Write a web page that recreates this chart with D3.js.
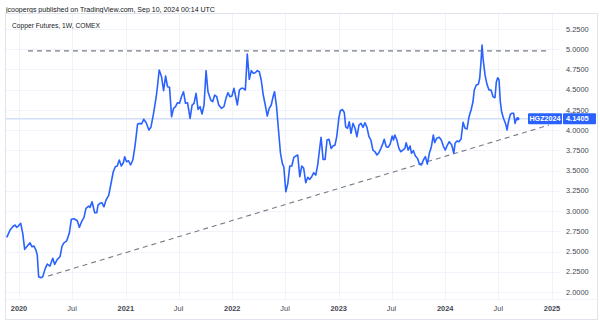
<!DOCTYPE html>
<html><head><meta charset="utf-8">
<script src="https://cdn.jsdelivr.net/npm/d3@7"></script>
<style>html,body{margin:0;padding:0;background:#fff;overflow:hidden}svg{display:block;font-family:"Liberation Sans",Arial,sans-serif}</style>
</head><body><svg id="c" width="600" height="324"></svg>
<script>
// ---- data (decimal years, weekly closes) ----
const closeTimes = [
2019.885,2019.916,2019.947,2019.963,2019.978,2019.993,2020.016,2020.035,2020.053,2020.078,2020.103,2020.122,2020.140,2020.159,2020.171,2020.184,2020.203,2020.222,2020.246,2020.265,
2020.290,2020.316,2020.334,2020.359,2020.384,2020.403,2020.421,2020.447,2020.471,2020.490,2020.515,2020.546,2020.565,2020.590,2020.609,2020.627,2020.653,2020.665,2020.684,2020.709,
2020.728,2020.740,2020.758,2020.777,2020.796,2020.815,2020.840,2020.859,2020.883,2020.902,2020.920,2020.939,2020.958,2020.977,2020.990,2021.007,2021.026,2021.045,2021.066,2021.086,
2021.111,2021.136,2021.149,2021.168,2021.192,2021.217,2021.236,2021.261,2021.286,2021.299,2021.314,2021.336,2021.355,2021.374,2021.392,2021.411,2021.430,2021.449,2021.467,2021.486,
2021.505,2021.523,2021.542,2021.561,2021.580,2021.604,2021.623,2021.641,2021.660,2021.679,2021.698,2021.716,2021.735,2021.754,2021.772,2021.798,2021.816,2021.835,2021.854,2021.873,
2021.898,2021.922,2021.941,2021.960,2021.978,2021.997,2022.016,2022.048,2022.067,2022.085,2022.104,2022.123,2022.141,2022.160,2022.179,2022.198,2022.216,2022.235,2022.254,2022.272,
2022.291,2022.310,2022.329,2022.347,2022.366,2022.385,2022.397,2022.416,2022.434,2022.453,2022.472,2022.484,2022.503,2022.522,2022.540,2022.559,2022.578,2022.596,2022.615,2022.634,
2022.653,2022.671,2022.690,2022.709,2022.728,2022.746,2022.765,2022.784,2022.802,2022.821,2022.834,2022.853,2022.872,2022.890,2022.909,2022.928,2022.947,2022.965,2022.982,2023.001,
2023.015,2023.034,2023.052,2023.065,2023.083,2023.099,2023.115,2023.134,2023.153,2023.171,2023.190,2023.209,2023.228,2023.246,2023.265,2023.284,2023.302,2023.321,2023.340,2023.359,
2023.377,2023.396,2023.415,2023.427,2023.446,2023.464,2023.483,2023.502,2023.514,2023.527,2023.546,2023.565,2023.583,2023.602,2023.621,2023.633,2023.652,2023.670,2023.683,2023.701,
2023.720,2023.739,2023.758,2023.776,2023.795,2023.814,2023.832,2023.851,2023.870,2023.888,2023.901,2023.920,2023.944,2023.963,2023.982,2024.001,2024.020,2024.038,2024.061,2024.080,
2024.092,2024.110,2024.129,2024.148,2024.167,2024.185,2024.204,2024.223,2024.242,2024.260,2024.272,2024.291,2024.310,2024.323,2024.335,2024.345,2024.354,2024.373,2024.391,2024.410,
2024.429,2024.448,2024.466,2024.479,2024.492,2024.504,2024.516,2024.529,2024.548,2024.567,2024.579,2024.591,2024.610,2024.628,2024.641,2024.654,2024.666,2024.679];
const closeValues = [
2.675,2.765,2.815,2.827,2.799,2.815,2.848,2.725,2.527,2.568,2.608,2.559,2.568,2.518,2.456,2.188,2.176,2.188,2.292,2.345,
2.320,2.416,2.341,2.403,2.435,2.568,2.608,2.633,2.725,2.898,2.905,2.880,2.799,2.880,2.922,3.034,3.062,3.046,3.115,2.979,
2.979,3.074,3.096,3.103,3.053,3.136,3.194,3.322,3.486,3.548,3.557,3.631,3.557,3.597,3.672,3.610,3.622,3.569,3.631,3.795,
4.076,4.084,4.076,4.134,4.092,4.002,4.035,4.208,4.413,4.558,4.743,4.660,4.487,4.669,4.537,4.529,4.166,4.270,4.290,4.339,
4.332,4.413,4.475,4.332,4.339,4.146,4.311,4.332,4.455,4.257,4.290,4.199,4.311,4.735,4.475,4.372,4.351,4.434,4.413,4.311,
4.270,4.290,4.393,4.463,4.413,4.422,4.517,4.311,4.496,4.517,4.517,4.496,4.941,4.628,4.735,4.702,4.710,4.735,4.722,4.620,
4.434,4.311,4.175,4.270,4.311,4.422,4.475,4.290,4.002,3.714,3.581,3.548,3.239,3.343,3.557,3.557,3.664,3.680,3.693,3.424,
3.557,3.528,3.350,3.417,3.392,3.424,3.474,3.445,3.569,3.775,3.911,3.639,3.639,3.878,3.887,3.775,3.804,3.816,3.927,4.150,
4.240,4.255,4.218,4.042,4.023,4.104,3.961,4.084,4.023,3.919,4.063,4.084,4.035,4.092,4.035,3.919,3.878,3.754,3.733,3.693,
3.721,3.775,3.837,3.887,3.795,3.788,3.829,3.927,3.878,3.940,3.878,3.775,3.733,3.754,3.775,3.845,3.754,3.804,3.714,3.746,
3.680,3.652,3.581,3.569,3.631,3.672,3.581,3.714,3.795,3.940,3.845,3.899,3.911,3.878,3.804,3.754,3.816,3.857,3.816,3.714,
3.837,3.866,3.857,3.890,4.097,4.023,4.014,4.166,4.249,4.351,4.496,4.558,4.566,4.641,4.846,5.052,4.888,4.681,4.566,4.496,
4.496,4.413,4.401,4.599,4.648,4.620,4.351,4.220,4.138,4.072,4.002,4.097,4.196,4.208,4.208,4.084,4.138,4.1405];
const priceTicks = [2.0,2.25,2.5,2.75,3.0,3.25,3.5,3.75,4.0,4.25,4.5,4.75,5.0,5.25];
const timeTicks = ["2020-01-01","2020-07-01","2021-01-01","2021-07-01","2022-01-01","2022-07-01","2023-01-01","2023-07-01","2024-01-01","2024-07-01","2025-01-01"];
const timeTickLabels = ["2020","Jul","2021","Jul","2022","Jul","2023","Jul","2024","Jul","2025"];
const resistanceTimes = [2020.084, 2024.953];
const resistanceValues = [4.98, 4.98];
const trendTimes = [2020.272, 2024.972];
const trendValues = [2.197, 4.063];
const lastPrice = 4.1405;
const symbolName = "HGZ2024";
const headerText = "jcoopergs published on TradingView.com, Sep 10, 2024 00:14 UTC";
const titleText = "Copper Futures, 1W, COMEX";

// ---- helpers ----
function toDate(t){const y=Math.floor(t);const s=Date.UTC(y,0,1),e=Date.UTC(y+1,0,1);return new Date(s+(t-y)*(e-s));}
const parseD = d3.utcParse("%Y-%m-%d");

const svg = d3.select("#c");
const plot = {l:5, r:560, t:13, b:299};
const x = d3.scaleUtc().domain([parseD("2020-01-01"), parseD("2025-01-01")]).range([19, 552]);
const y = d3.scaleLinear().domain([2.0, 5.25]).range([292, 29]);

svg.append("rect").attr("width",600).attr("height",324).attr("fill","#fff");

// header
function fitText(sel, target){const w=sel.node().getComputedTextLength();const fs=parseFloat(sel.attr("font-size"));sel.attr("font-size",(fs*target/w).toFixed(2));}
const h = svg.append("text").attr("x",6).attr("y",12).attr("font-size",9).attr("fill","#131722").text(headerText);
fitText(h, 209);

// frame
svg.append("rect").attr("x",5.5).attr("y",13.5).attr("width",592).attr("height",306).attr("fill","none").attr("stroke","#e0e3eb");

// grid
const grid = svg.append("g");
grid.selectAll("line.h").data(priceTicks).join("line")
  .attr("x1",plot.l+1).attr("x2",plot.r).attr("y1",d=>Math.round(y(d))+0.5).attr("y2",d=>Math.round(y(d))+0.5)
  .attr("stroke","#f0f3fa").attr("stroke-width",1);
grid.selectAll("line.v").data(timeTicks).join("line")
  .attr("x1",d=>Math.round(x(parseD(d)))+0.5).attr("x2",d=>Math.round(x(parseD(d)))+0.5).attr("y1",plot.t+1).attr("y2",plot.b)
  .attr("stroke","#f0f3fa").attr("stroke-width",1);
// axis separators
svg.append("line").attr("x1",plot.l+1).attr("x2",597).attr("y1",plot.b+0.5).attr("y2",plot.b+0.5).attr("stroke","#f0f3fa");

// title
const tt = svg.append("text").attr("x",12).attr("y",28).attr("font-size",8.5).attr("fill","#131722").text(titleText);
fitText(tt, 88);

const clip = svg.append("defs").append("clipPath").attr("id","pc").append("rect")
  .attr("x",plot.l+1).attr("y",plot.t+1).attr("width",plot.r-plot.l).attr("height",plot.b-plot.t-1);
const pg = svg.append("g").attr("clip-path","url(#pc)");

// last price line
pg.append("line").attr("x1",plot.l).attr("x2",plot.r).attr("y1",y(lastPrice)).attr("y2",y(lastPrice))
  .attr("stroke","#d4defd").attr("stroke-width",1.5);

// drawings
const lineGen = d3.line().x(d=>x(toDate(d[0]))).y(d=>y(d[1]));
pg.append("path").datum(d3.zip(resistanceTimes,resistanceValues)).attr("d",lineGen)
  .attr("fill","none").attr("stroke","#787b86").attr("stroke-width",1.1).attr("stroke-dasharray","5,4");
pg.append("path").datum(d3.zip(trendTimes,trendValues)).attr("d",lineGen)
  .attr("fill","none").attr("stroke","#787b86").attr("stroke-width",1.1).attr("stroke-dasharray","5,4");

// series
const series = d3.zip(closeTimes, closeValues);
pg.append("path").datum(series).attr("d",lineGen)
  .attr("fill","none").attr("stroke","#2962ff").attr("stroke-width",1.6).attr("stroke-linejoin","round");
const last = series[series.length-1];
pg.append("circle").attr("cx",x(toDate(last[0]))).attr("cy",y(last[1])).attr("r",1.8).attr("fill","#2962ff");

// price axis
svg.append("g").selectAll("text").data(priceTicks).join("text")
  .attr("x",566).attr("y",d=>y(d)).attr("dy","0.35em").attr("font-size",7.4).attr("fill","#434651")
  .text(d=>d.toFixed(4));

// time axis
svg.append("g").selectAll("text").data(timeTicks).join("text")
  .attr("x",d=>x(parseD(d))).attr("y",311).attr("text-anchor","middle").attr("font-size",7.4)
  .attr("font-weight",(d,i)=>timeTickLabels[i]==="Jul"?"normal":"bold")
  .attr("fill","#434651").text((d,i)=>timeTickLabels[i]);

// last price labels
const ly = y(lastPrice);
svg.append("rect").attr("x",528).attr("y",ly-5.5).attr("width",34).attr("height",11).attr("rx",1).attr("fill","#2962ff");
svg.append("text").attr("x",545).attr("y",ly).attr("dy","0.35em").attr("text-anchor","middle").attr("font-size",7.2).attr("font-weight","bold").attr("fill","#fff").text(symbolName);
svg.append("rect").attr("x",563).attr("y",ly-5.5).attr("width",33).attr("height",11).attr("rx",1).attr("fill","#2962ff");
svg.append("text").attr("x",566).attr("y",ly).attr("dy","0.35em").attr("font-size",7.4).attr("font-weight","bold").attr("fill","#fff").text(lastPrice.toFixed(4));
</script></body></html>
